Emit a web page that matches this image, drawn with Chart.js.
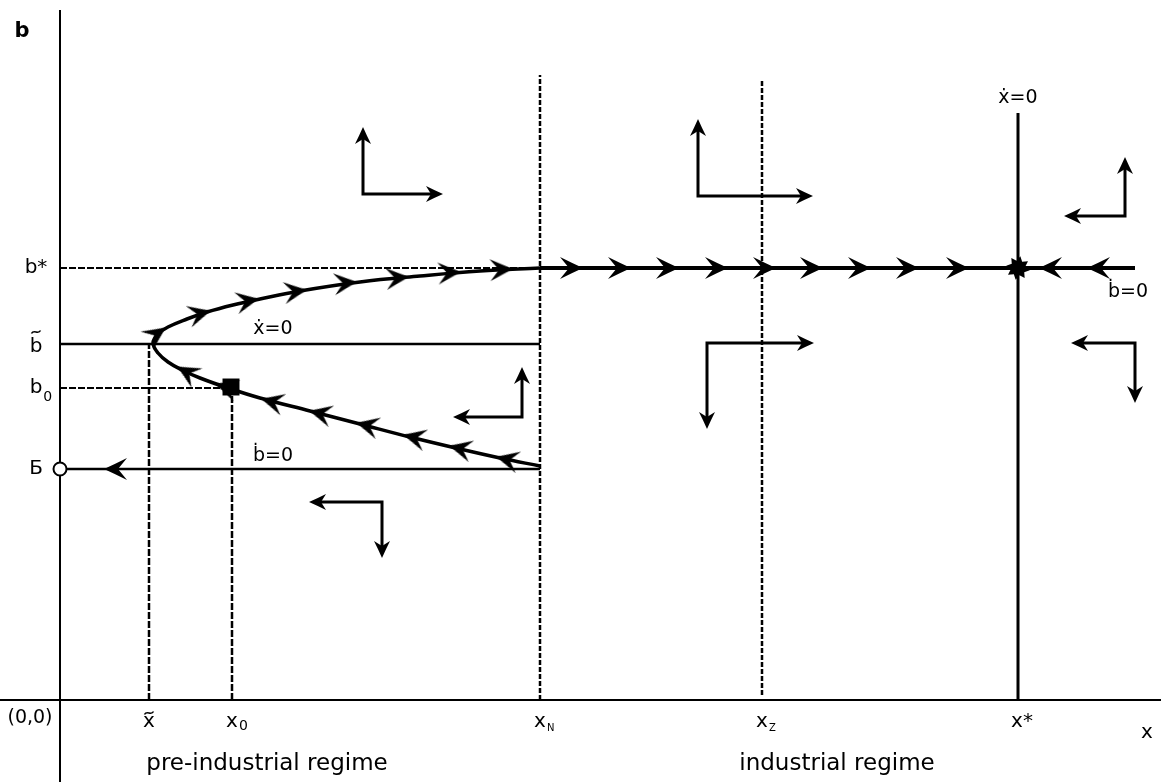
<!DOCTYPE html>
<html>
<head>
<meta charset="utf-8">
<title>Phase diagram: pre-industrial and industrial regimes</title>
<script src="https://cdn.jsdelivr.net/npm/chart.js@4.4.1/dist/chart.umd.min.js"></script>
<style>
  html, body { margin: 0; padding: 0; background: #fff; overflow: hidden; }
  canvas { display: block; }
</style>
</head>
<body>
<canvas id="phase" width="1161" height="782"></canvas>
<script>
// Plot window in (x, b) units
const X_RANGE = [-60, 1101];
const B_RANGE = [-82, 700];
const AXIS_TOP = 690;

// Key abscissae: x̃, x0, xN, xZ, x*
const xKeys = [89, 172, 480, 702, 958];
const xKeyLabels = ['x', 'x', 'x', 'x', 'x*'];
const xKeyTilde = [true, false, false, false, false];
const xKeySubs = ['', '0', 'N', 'Z', ''];

// Key ordinates: b̄, b0, b̃, b*
const bKeys = [231, 312, 356, 432];
const bKeyLabels = ['Б', 'b', 'b', 'b*'];
const bKeyTilde = [false, false, true, false];
const bKeySubs = ['', '0', '', ''];

// Vertical extents of the lines at xN, xZ and x*
const xNTop = 625;
const xZTop = 620;
const xZBottom = 5;
const xStarTop = 587;
// Right end of the industrial ḃ=0 locus
const bStarLineEnd = 1075;

// Saddle path: from xN on b*, round the turning point near x̃, back to xN on b̄
const pathX = [480, 420, 360, 300, 240, 200, 173, 147, 127, 108, 98, 93, 98, 108, 122, 140, 168, 200, 250, 300, 350, 400, 440, 480];
const pathB = [432, 429, 424, 418, 409, 401, 395, 388, 381, 373, 366, 357, 347, 338, 330, 322, 312, 302, 289, 276, 263, 251, 242, 234];

// Arrowheads on the saddle path: position and heading (degrees, counter-clockwise from +x)
const pathArrowX = [105, 150, 198, 246, 296, 348, 400, 452, 118, 156, 202, 250, 297, 344, 390, 437];
const pathArrowB = [372, 389, 401, 410, 418, 423, 428, 431, 333, 316, 301, 289, 277, 265, 254, 243];
const pathArrowHeading = [35, 15, 11, 8, 6, 5, 4, 3, 150, 162, 165, 166, 166, 166, 166, 166];

// Arrowheads on the industrial ḃ=0 locus (at b*)
const bStarArrowX = [522, 570, 618, 667, 715, 762, 810, 858, 908, 980, 1028];
const bStarArrowHeading = [0, 0, 0, 0, 0, 0, 0, 0, 0, 180, 180];

// Arrowhead on the pre-industrial ḃ=0 locus (at b̄)
const bBarArrowX = [45];
const bBarArrowHeading = [180];

// Direction-of-motion indicators: corner, tip of vertical arm, tip of horizontal arm
const flowCornerX = [303, 638, 1065, 462, 322, 647, 1075];
const flowCornerB = [506, 504, 484, 283, 198, 357, 357];
const flowVertTipB = [572, 580, 542, 332, 143, 272, 298];
const flowHorzTipX = [382, 752, 1005, 394, 250, 753, 1012];

const FONT = '"DejaVu Sans", "Liberation Sans", sans-serif';
const INK = '#000';

// Barbed arrowhead sprite with its tip at the sprite centre, pointing to +x
function makeHead(len, half, notch) {
  const s = Math.ceil(len * 2 + 6);
  const c = document.createElement('canvas');
  c.width = s; c.height = s;
  const g = c.getContext('2d');
  const cx = s / 2, cy = s / 2;
  g.fillStyle = INK;
  g.beginPath();
  g.moveTo(cx + 1, cy);
  g.quadraticCurveTo(cx - len * 0.45, cy - half * 0.45, cx - len, cy - half);
  g.lineTo(cx - notch, cy);
  g.lineTo(cx - len, cy + half);
  g.quadraticCurveTo(cx - len * 0.45, cy + half * 0.45, cx + 1, cy);
  g.closePath();
  g.fill();
  return c;
}

// Filled eight-pointed star for the steady state
function makeStar(outer, inner) {
  const s = Math.ceil(outer * 2 + 4);
  const c = document.createElement('canvas');
  c.width = s; c.height = s;
  const g = c.getContext('2d');
  const cx = s / 2, cy = s / 2;
  g.fillStyle = INK;
  g.beginPath();
  for (let i = 0; i < 16; i++) {
    const r = i % 2 === 0 ? outer : inner;
    const a = i * Math.PI / 8 + Math.PI / 16;
    const px = cx + r * Math.cos(a), py = cy + r * Math.sin(a);
    if (i === 0) g.moveTo(px, py); else g.lineTo(px, py);
  }
  g.closePath();
  g.fill();
  return c;
}

const pathHead = makeHead(22, 11, 13);
const flowHead = makeHead(16, 8, 11);
const starMark = makeStar(12, 7.5);

const base = {
  showLine: true, borderColor: INK, backgroundColor: INK, borderWidth: 2,
  pointRadius: 0, pointHoverRadius: 0, pointHitRadius: 0, fill: false, tension: 0
};
const seg = (pts, extra) => Object.assign({}, base, { data: pts }, extra || {});
const heads = (pts, img, order) => ({
  data: pts, showLine: false, pointStyle: img, pointRadius: 4, pointHoverRadius: 4,
  pointHitRadius: 0, pointRotation: c => (c.raw ? -c.raw.h : 0), order: order
});

const datasets = [];

// axes
datasets.push(seg([{ x: X_RANGE[0], y: 0 }, { x: X_RANGE[1], y: 0 }], { order: 9 }));
datasets.push(seg([{ x: 0, y: B_RANGE[0] }, { x: 0, y: AXIS_TOP }], { order: 9 }));

// guide lines
const dash = [7, 2];
datasets.push(seg([{ x: 0, y: bKeys[3] }, { x: xKeys[2], y: bKeys[3] }], { borderDash: dash, order: 8 }));
datasets.push(seg([{ x: 0, y: bKeys[1] }, { x: xKeys[1], y: bKeys[1] }], { borderDash: dash, order: 8 }));
datasets.push(seg([{ x: xKeys[0], y: 0 }, { x: xKeys[0], y: bKeys[2] }], { borderDash: dash, borderWidth: 2.5, order: 8 }));
datasets.push(seg([{ x: xKeys[1], y: 0 }, { x: xKeys[1], y: bKeys[1] }], { borderDash: dash, borderWidth: 2.5, order: 8 }));
datasets.push(seg([{ x: xKeys[2], y: 0 }, { x: xKeys[2], y: xNTop }], { borderDash: [5, 2], borderWidth: 2.5, order: 8 }));
datasets.push(seg([{ x: xKeys[3], y: xZBottom }, { x: xKeys[3], y: xZTop }], { borderDash: [5, 2], borderWidth: 2.5, order: 8 }));

// nullclines
datasets.push(seg([{ x: 0, y: bKeys[2] }, { x: xKeys[2], y: bKeys[2] }], { borderWidth: 2.5, order: 7 }));
datasets.push(seg([{ x: 0, y: bKeys[0] }, { x: xKeys[2], y: bKeys[0] }], { borderWidth: 2.5, order: 7 }));
datasets.push(seg([{ x: xKeys[4], y: 0 }, { x: xKeys[4], y: xStarTop }], { borderWidth: 3, order: 7 }));
datasets.push(seg([{ x: xKeys[2], y: bKeys[3] }, { x: bStarLineEnd, y: bKeys[3] }], { borderWidth: 4, order: 6 }));

// saddle path
datasets.push(seg(pathX.map((x, i) => ({ x: x, y: pathB[i] })), { borderWidth: 3.5, tension: 0.4, order: 6 }));

// direction-of-motion indicators
const ARM_TRIM = 5;
const flowTips = [];
flowCornerX.forEach((cx, i) => {
  const cb = flowCornerB[i], vb = flowVertTipB[i], hx = flowHorzTipX[i];
  const vDir = Math.sign(vb - cb), hDir = Math.sign(hx - cx);
  datasets.push(seg([
    { x: cx, y: vb - vDir * ARM_TRIM },
    { x: cx, y: cb },
    { x: hx - hDir * ARM_TRIM, y: cb }
  ], { borderWidth: 3, order: 5 }));
  flowTips.push({ x: cx, y: vb, h: vDir > 0 ? 90 : -90 });
  flowTips.push({ x: hx, y: cb, h: hDir > 0 ? 0 : 180 });
});
datasets.push(heads(flowTips, flowHead, 2));

// arrowheads on the trajectories
datasets.push(heads(pathArrowX.map((x, i) => ({ x: x, y: pathArrowB[i], h: pathArrowHeading[i] })), pathHead, 2));
datasets.push(heads(bStarArrowX.map((x, i) => ({ x: x, y: bKeys[3], h: bStarArrowHeading[i] })), pathHead, 2));
datasets.push(heads(bBarArrowX.map((x, i) => ({ x: x, y: bKeys[0], h: bBarArrowHeading[i] })), pathHead, 2));

// markers: unstable point b̄, initial state (x0, b0), steady state (x*, b*)
datasets.push({
  data: [{ x: 0, y: bKeys[0] }], showLine: false, pointStyle: 'circle', pointRadius: 6.5,
  pointBackgroundColor: '#fff', pointBorderColor: INK, pointBorderWidth: 2, pointHitRadius: 0, order: 1
});
datasets.push({
  data: [{ x: xKeys[1] - 1, y: bKeys[1] + 1 }], showLine: false, pointStyle: 'rect', pointRadius: 12,
  pointBackgroundColor: INK, pointBorderColor: INK, pointBorderWidth: 0, pointHitRadius: 0, order: 1
});
datasets.push(heads([{ x: xKeys[4], y: bKeys[3], h: 0 }], starMark, 1));

// text drawing
function put(ctx, text, x, y, size, opts) {
  const o = opts || {};
  ctx.font = (o.bold ? 'bold ' : '') + size + 'px ' + FONT;
  ctx.textAlign = o.align || 'center';
  ctx.textBaseline = 'alphabetic';
  ctx.fillStyle = INK;
  ctx.fillText(text, x, y);
}
// small wave drawn above a glyph
function tilde(ctx, cx, cy, w, h) {
  ctx.save();
  ctx.strokeStyle = INK;
  ctx.lineWidth = 1.6;
  ctx.beginPath();
  ctx.moveTo(cx - w / 2, cy + h / 2);
  ctx.bezierCurveTo(cx - w / 4, cy - h, cx + w / 4, cy + h, cx + w / 2, cy - h / 2);
  ctx.stroke();
  ctx.restore();
}
// glyph centred at cx, optional tilde above it and subscript after it
function putKey(ctx, main, hasTilde, sub, cx, baseY, size, subSize, subDrop, tildeLift) {
  ctx.font = size + 'px ' + FONT;
  const w = ctx.measureText(main).width;
  put(ctx, main, cx, baseY, size);
  if (hasTilde) tilde(ctx, cx, baseY - tildeLift, 9, 3);
  if (sub) put(ctx, sub, cx + w / 2 + 1, baseY + subDrop, subSize, { align: 'left' });
}

const labelPlugin = {
  id: 'phaseLabels',
  afterDatasetsDraw(chart) {
    const ctx = chart.ctx;
    const xs = chart.scales.x, ys = chart.scales.y;
    const X = v => xs.getPixelForValue(v), Y = v => ys.getPixelForValue(v);
    ctx.save();
    const axisY = Y(0), axisX = X(0);

    // axis names and origin
    put(ctx, 'b', axisX - 38, Y(AXIS_TOP) + 27, 21, { bold: true });
    put(ctx, 'x', X(X_RANGE[1]) - 14, axisY + 38, 20);
    put(ctx, '(0,0)', axisX - 30, axisY + 23, 19);

    // key values on the x axis
    xKeys.forEach((v, i) => {
      const small = xKeySubs[i] === '0' ? 14 : 10;
      const drop = xKeySubs[i] === '0' ? 3 : 4;
      putKey(ctx, xKeyLabels[i], xKeyTilde[i], xKeySubs[i], X(v) + (i === 4 ? 4 : 0), axisY + 27, 20, small, drop, 14);
    });
    // key values on the b axis
    bKeys.forEach((v, i) => {
      putKey(ctx, bKeyLabels[i], bKeyTilde[i], bKeySubs[i], axisX - 24, Y(v) + (bKeyTilde[i] ? 8 : 5), 20, 14, 8, 20);
    });

    // locus names
    put(ctx, '\u1E8B=0', X(213), Y(bKeys[2]) - 10, 19);
    put(ctx, '\u1E03=0', X(213), Y(bKeys[0]) - 8, 19);
    put(ctx, '\u1E8B=0', X(xKeys[4]), Y(xStarTop) - 10, 19);
    put(ctx, '\u1E03=0', X(1068), Y(bKeys[3]) + 29, 19);

    // regimes
    put(ctx, 'pre-industrial regime', X(207), axisY + 70, 23);
    put(ctx, 'industrial regime', X(777), axisY + 70, 23);
    ctx.restore();
  }
};

new Chart(document.getElementById('phase'), {
  type: 'scatter',
  data: { datasets: datasets },
  options: {
    responsive: false,
    animation: false,
    devicePixelRatio: 1,
    layout: { padding: 0, autoPadding: false },
    events: [],
    plugins: { legend: { display: false }, tooltip: { enabled: false } },
    scales: {
      x: { type: 'linear', min: X_RANGE[0], max: X_RANGE[1], display: false },
      y: { type: 'linear', min: B_RANGE[0], max: B_RANGE[1], display: false }
    }
  },
  plugins: [labelPlugin]
});
</script>
</body>
</html>
